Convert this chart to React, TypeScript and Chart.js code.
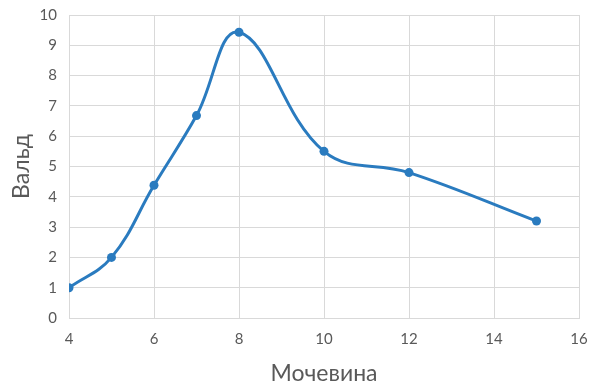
import React, { useEffect, useRef } from "react";
import { Chart, registerables } from "chart.js";

Chart.register(...registerables);

const urea: number[] = [4, 5, 6, 7, 8, 10, 12, 15];
const wald: number[] = [1, 2, 4.38, 6.68, 9.43, 5.5, 4.8, 3.2];
const xTitle = "Мочевина";
const yTitle = "Вальд";

const LINE = "#2a7bbf";
const GRID = "#d9d9d9";
const TEXT = "#595959";
const FONT = "Lato, 'Noto Sans', sans-serif";

export default function App() {
  const ref = useRef<HTMLCanvasElement | null>(null);

  useEffect(() => {
    if (!ref.current) return;
    const chart = new Chart(ref.current, {
      type: "scatter",
      data: {
        datasets: [
          {
            data: urea.map((x, i) => ({ x, y: wald[i] })),
            showLine: true,
            tension: 0.4,
            borderColor: LINE,
            backgroundColor: LINE,
            borderWidth: 3,
            pointRadius: 4.5,
            pointBorderWidth: 0,
          },
        ],
      },
      options: {
        animation: false,
        responsive: false,
        maintainAspectRatio: false,
        layout: { padding: { left: 0, right: 10, top: 15, bottom: 0 } },
        plugins: { legend: { display: false }, tooltip: { enabled: false } },
        scales: {
          x: {
            type: "linear",
            min: 4,
            max: 16,
            afterFit: (s: any) => { s.height = 67; s.paddingRight = 0; s.paddingLeft = 0; },
            ticks: { stepSize: 2, color: TEXT, font: { family: FONT, size: 15 }, padding: 12 },
            grid: { color: GRID, lineWidth: 1, drawTicks: false },
            border: { color: GRID },
            title: { display: true, text: xTitle, color: TEXT, font: { family: FONT, size: 23, lineHeight: 1 }, padding: { top: 0, bottom: 0 } },
          },
          y: {
            min: 0,
            max: 10,
            afterFit: (s: any) => { s.width = 69; s.paddingTop = 0; s.paddingBottom = 0; },
            ticks: { stepSize: 1, color: TEXT, font: { family: FONT, size: 15 }, padding: 12 },
            grid: { color: GRID, lineWidth: 1, drawTicks: false },
            border: { color: GRID },
            title: { display: true, text: yTitle, color: TEXT, font: { family: FONT, size: 23 }, padding: { top: 8, bottom: 4 } },
          },
        },
      },
    });
    return () => chart.destroy();
  }, []);

  return (
    <div style={{ position: "fixed", left: 0, top: 0, width: 589, height: 385, background: "#fff" }}>
      <canvas ref={ref} width={589} height={385} />
    </div>
  );
}
